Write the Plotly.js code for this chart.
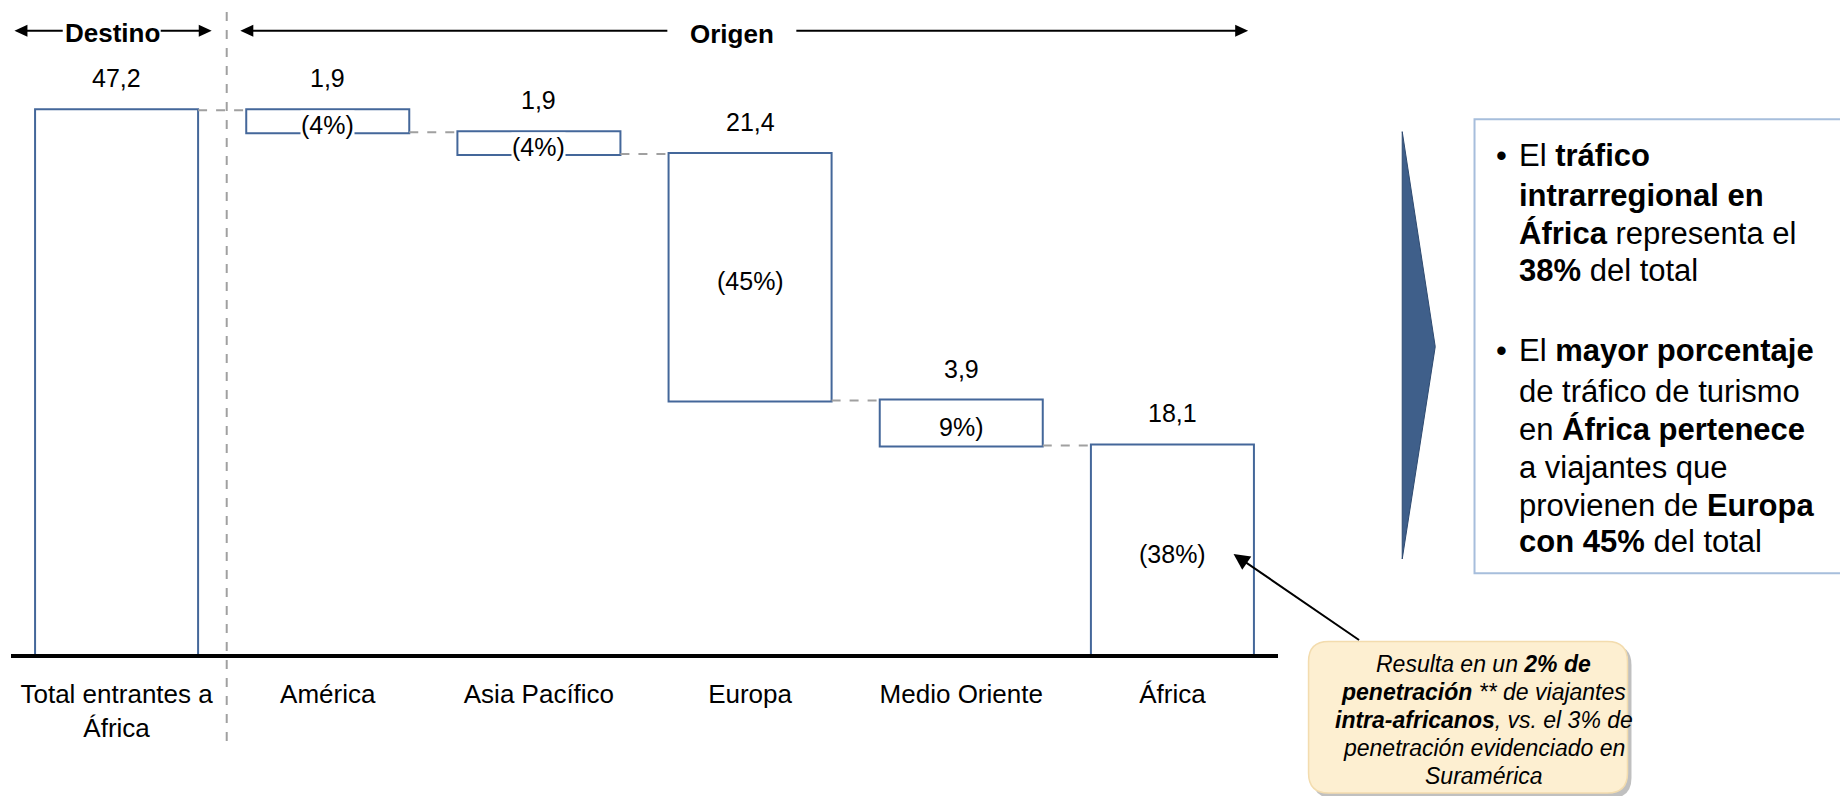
<!DOCTYPE html>
<html>
<head>
<meta charset="utf-8">
<script src="https://cdn.plot.ly/plotly-3.0.1.min.js"></script>
<style>html,body{margin:0;padding:0;background:#fff;}#chart{width:1840px;height:796px;}</style>
</head>
<body>
<div id="chart"></div>
<script>
// ---- data ----
const categories = ['Total entrantes a<br>África', 'América', 'Asia Pacífico', 'Europa', 'Medio Oriente', 'África'];
const measures = ['absolute', 'relative', 'relative', 'relative', 'relative', 'relative'];
const values = [47.2, -1.9, -1.9, -21.4, -3.9, -18.1];
const valueLabels = ['47,2', '1,9', '1,9', '21,4', '3,9', '18,1'];
const shareLabels = ['', '(4%)', '(4%)', '(45%)', '9%)', '(38%)'];

const bullet1 = ['El <b>tráfico</b>', '<b>intrarregional en</b>', '<b>África</b> representa el', '<b>38%</b> del total'];
const bullet2 = ['El <b>mayor porcentaje</b>', 'de tráfico de turismo', 'en <b>África pertenece</b>', 'a viajantes que', 'provienen de <b>Europa</b>', '<b>con 45%</b> del total'];
const calloutLines = ['Resulta en un <b>2% de</b>', '<b>penetración</b> ** de viajantes', '<b>intra-africanos</b>, vs. el 3% de', 'penetración evidenciado en', 'Suramérica'];

// ---- layout geometry ----
const W = 1840, H = 796;
const ml = 11.25, mr = 561.55, mt = 78.05, mb = 142;
const pw = W - ml - mr, ph = H - mt - mb;
const PX = px => (px - ml) / pw;
const PY = py => (H - mb - py) / ph;
const FONT = 'Liberation Sans, Arial, sans-serif';

// running totals from data
const tops = [], bottoms = [];
let run = 0;
values.forEach((v, i) => {
  if (measures[i] === 'absolute') { tops.push(v); run = v; bottoms.push(0); }
  else { tops.push(run); run += v; bottoms.push(run); }
});

const barColor = '#44679A';
const trace = {
  type: 'waterfall',
  x: categories,
  y: values,
  measure: measures,
  textinfo: 'none',
  hoverinfo: 'skip',
  increasing: {marker: {color: '#ffffff', line: {color: barColor, width: 2}}},
  decreasing: {marker: {color: '#ffffff', line: {color: barColor, width: 2}}},
  totals: {marker: {color: '#ffffff', line: {color: barColor, width: 2}}},
  connector: {mode: 'between', line: {color: '#a0a0a0', width: 2, dash: 'dash'}}
};

const annotations = [];
categories.forEach((c, i) => {
  annotations.push({x: c, y: tops[i], xref: 'x', yref: 'y', text: valueLabels[i], showarrow: false,
    yshift: 32, yanchor: 'middle', font: {family: FONT, size: 25, color: '#000'}});
  if (shareLabels[i]) {
    annotations.push({x: c, y: (tops[i] + bottoms[i]) / 2, xref: 'x', yref: 'y', text: shareLabels[i], showarrow: false,
      yshift: -4, yanchor: 'middle', bgcolor: '#ffffff', borderpad: 0,
      font: {family: FONT, size: 25, color: '#000'}});
  }
});

// header labels
annotations.push({xref: 'paper', yref: 'paper', x: PX(112.4), y: PY(33), text: '<b>Destino</b>', showarrow: false,
  xanchor: 'center', yanchor: 'middle', font: {family: FONT, size: 26, color: '#000'}});
annotations.push({xref: 'paper', yref: 'paper', x: PX(732), y: PY(34), text: '<b>Origen</b>', showarrow: false,
  xanchor: 'center', yanchor: 'middle', font: {family: FONT, size: 26, color: '#000'}});

// bullet text
const bulletFont = {family: FONT, size: 31, color: '#000'};
const lineY1 = [156, 196, 234, 271];
const lineY2 = [351, 392, 430, 468, 506, 542];
bullet1.forEach((t, i) => annotations.push({xref: 'paper', yref: 'paper', x: PX(1517), y: PY(lineY1[i]), text: t,
  showarrow: false, xanchor: 'left', yanchor: 'middle', font: bulletFont}));
bullet2.forEach((t, i) => annotations.push({xref: 'paper', yref: 'paper', x: PX(1517), y: PY(lineY2[i]), text: t,
  showarrow: false, xanchor: 'left', yanchor: 'middle', font: bulletFont}));
[lineY1[0], lineY2[0]].forEach(y => annotations.push({xref: 'paper', yref: 'paper', x: PX(1494), y: PY(y), text: '•',
  showarrow: false, xanchor: 'left', yanchor: 'middle', font: bulletFont}));

// callout text
const cLineY = [664, 692, 720, 748, 776];
calloutLines.forEach((t, i) => annotations.push({xref: 'paper', yref: 'paper', x: PX(1484), y: PY(cLineY[i]),
  text: '<i>' + t + '</i>', showarrow: false, xanchor: 'center', yanchor: 'middle',
  font: {family: FONT, size: 23, color: '#000'}}));

// arrow from callout to África bar
annotations.push({xref: 'paper', yref: 'paper', x: PX(1234), y: PY(554), text: '', showarrow: true,
  ax: 127, ay: 87, axref: 'pixel', ayref: 'pixel', arrowhead: 2, arrowsize: 1.6, arrowwidth: 2, arrowcolor: '#000'});

// ---- shapes ----
function pathFromPx(cmds) {
  return cmds.map(c => {
    if (c[0] === 'Z') return 'Z';
    const pts = [];
    for (let k = 1; k < c.length; k += 2) pts.push(PX(c[k]) + ',' + PY(c[k + 1]));
    return c[0] + pts.join(' ');
  }).join(' ');
}
function roundRect(x0, y0, x1, y1, r) {
  return pathFromPx([
    ['M', x0 + r, y0], ['L', x1 - r, y0], ['Q', x1, y0, x1, y0 + r], ['L', x1, y1 - r],
    ['Q', x1, y1, x1 - r, y1], ['L', x0 + r, y1], ['Q', x0, y1, x0, y1 - r], ['L', x0, y0 + r],
    ['Q', x0, y0, x0 + r, y0], ['Z']
  ]);
}
function tri(tipX, y, dir) { // dir -1 left, 1 right
  const L = 13, h = 6;
  return pathFromPx([['M', tipX, y], ['L', tipX - dir * L, y - h], ['L', tipX - dir * L, y + h], ['Z']]);
}
const shapes = [];
const ay0 = 30.7;
function hline(x0, x1, y, color, width, dash) {
  shapes.push({type: 'line', xref: 'paper', yref: 'paper', x0: PX(x0), x1: PX(x1), y0: PY(y), y1: PY(y),
    line: {color: color, width: width, dash: dash || 'solid'}});
}
// header arrows
hline(24, 63, ay0, '#000', 2); hline(161, 202, ay0, '#000', 2);
hline(250, 667.7, ay0, '#000', 2); hline(796.7, 1238, ay0, '#000', 2);
[[14.7, -1], [212, 1], [240.6, -1], [1248.6, 1]].forEach(a => shapes.push({type: 'path', xref: 'paper', yref: 'paper',
  path: tri(a[0], ay0, a[1]), fillcolor: '#000', line: {width: 0}}));
// separator
shapes.push({type: 'line', xref: 'paper', yref: 'paper', x0: PX(227), x1: PX(227), y0: PY(12), y1: PY(747),
  line: {color: '#a0a0a0', width: 2, dash: 'dash'}});
// chevron
shapes.push({type: 'path', xref: 'paper', yref: 'paper',
  path: pathFromPx([['M', 1402.7, 131.7], ['L', 1435.7, 346.7], ['L', 1402.7, 559], ['Z']]),
  fillcolor: '#3F5F8A', line: {color: '#2E4A70', width: 1}});
// text box
shapes.push({type: 'rect', xref: 'paper', yref: 'paper', x0: PX(1475), x1: PX(1846), y0: PY(119.3), y1: PY(573.3),
  line: {color: '#A7BEDC', width: 2}, fillcolor: 'rgba(0,0,0,0)'});
// callout shadow + box
shapes.push({type: 'path', xref: 'paper', yref: 'paper', path: roundRect(1313, 645, 1632, 798, 20),
  fillcolor: 'rgba(140,140,140,0.55)', line: {width: 0}});
shapes.push({type: 'path', xref: 'paper', yref: 'paper', path: roundRect(1309, 641.5, 1628, 793, 20),
  fillcolor: '#FDEFD1', line: {color: '#F3DCAE', width: 1.5}});

const layout = {
  width: W, height: H,
  margin: {l: ml, r: mr, t: mt, b: mb, pad: 0},
  paper_bgcolor: '#fff', plot_bgcolor: '#fff',
  showlegend: false,
  waterfallgap: 0.228,
  font: {family: FONT, color: '#000'},
  xaxis: {type: 'category', range: [-0.5, 5.5], showgrid: false, zeroline: false,
    showline: true, linecolor: '#000', linewidth: 4,
    ticks: 'outside', ticklen: 14, tickcolor: 'rgba(0,0,0,0)',
    tickfont: {family: FONT, size: 26, color: '#000'}, fixedrange: true},
  yaxis: {range: [0, 50], visible: false, showgrid: false, zeroline: false, fixedrange: true},
  annotations: annotations,
  shapes: shapes
};

Plotly.newPlot('chart', [trace], layout, {displayModeBar: false, staticPlot: true});
</script>
</body>
</html>
